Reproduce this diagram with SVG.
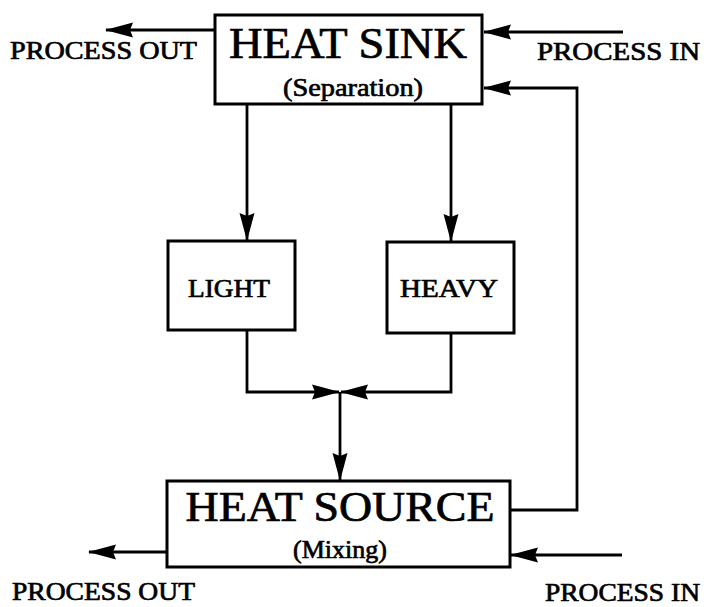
<svg xmlns="http://www.w3.org/2000/svg" width="704" height="607" viewBox="0 0 704 607">
<defs>
<marker id="ah" markerWidth="28" markerHeight="18" refX="27" refY="9" orient="auto" markerUnits="userSpaceOnUse">
<path d="M0,1.5 L28,9 L0,16.5 L3,9 Z" fill="#000"/>
</marker>
</defs>
<style>
.box{fill:#fff;stroke:#000;stroke-width:3}
.t{font-family:"Liberation Serif","Times New Roman",serif;fill:#000;stroke:#000;stroke-width:0.7}
.c{stroke:#000;stroke-width:2.8;fill:none}
</style>
<rect width="704" height="607" fill="#fff"/>
<g id="connectors">
<path class="c" d="M215,30 H106" marker-end="url(#ah)"/>
<path class="c" d="M623,32 H484" marker-end="url(#ah)"/>
<path class="c" d="M510,510 H577 V88 H484" marker-end="url(#ah)"/>
<path class="c" d="M247,104 V240" marker-end="url(#ah)"/>
<path class="c" d="M451,104 V241" marker-end="url(#ah)"/>
<path class="c" d="M247,330 V392 H339" marker-end="url(#ah)"/>
<path class="c" d="M451,333 V392 H341" marker-end="url(#ah)"/>
<path class="c" d="M340,392 V480" marker-end="url(#ah)"/>
<path class="c" d="M167,552 H89" marker-end="url(#ah)"/>
<path class="c" d="M622,555 H511" marker-end="url(#ah)"/>
</g>
<g id="heat-sink">
<rect class="box" x="215" y="15" width="267" height="89"/>
<text class="t" x="348" y="58" font-size="44" text-anchor="middle" textLength="238" lengthAdjust="spacingAndGlyphs">HEAT SINK</text>
<text class="t" x="353" y="96" font-size="26" text-anchor="middle" textLength="140" lengthAdjust="spacingAndGlyphs">(Separation)</text>
</g>
<g id="light">
<rect class="box" x="168" y="241" width="127" height="89"/>
<text class="t" x="229" y="297" font-size="25" text-anchor="middle" textLength="82" lengthAdjust="spacingAndGlyphs">LIGHT</text>
</g>
<g id="heavy">
<rect class="box" x="387" y="242" width="127" height="91"/>
<text class="t" x="449" y="297" font-size="26" text-anchor="middle" textLength="98" lengthAdjust="spacingAndGlyphs">HEAVY</text>
</g>
<g id="heat-source">
<rect class="box" x="167" y="481" width="343" height="86"/>
<text class="t" x="340" y="521" font-size="42" text-anchor="middle" textLength="309" lengthAdjust="spacingAndGlyphs">HEAT SOURCE</text>
<text class="t" x="340" y="558" font-size="26" text-anchor="middle">(Mixing)</text>
</g>
<g id="labels">
<text class="t" x="10" y="59" font-size="26" textLength="187" lengthAdjust="spacingAndGlyphs">PROCESS OUT</text>
<text class="t" x="537" y="60" font-size="26" textLength="163" lengthAdjust="spacingAndGlyphs">PROCESS IN</text>
<text class="t" x="12" y="600" font-size="26" textLength="183" lengthAdjust="spacingAndGlyphs">PROCESS OUT</text>
<text class="t" x="545" y="601" font-size="26" textLength="155" lengthAdjust="spacingAndGlyphs">PROCESS IN</text>
</g>
</svg>
